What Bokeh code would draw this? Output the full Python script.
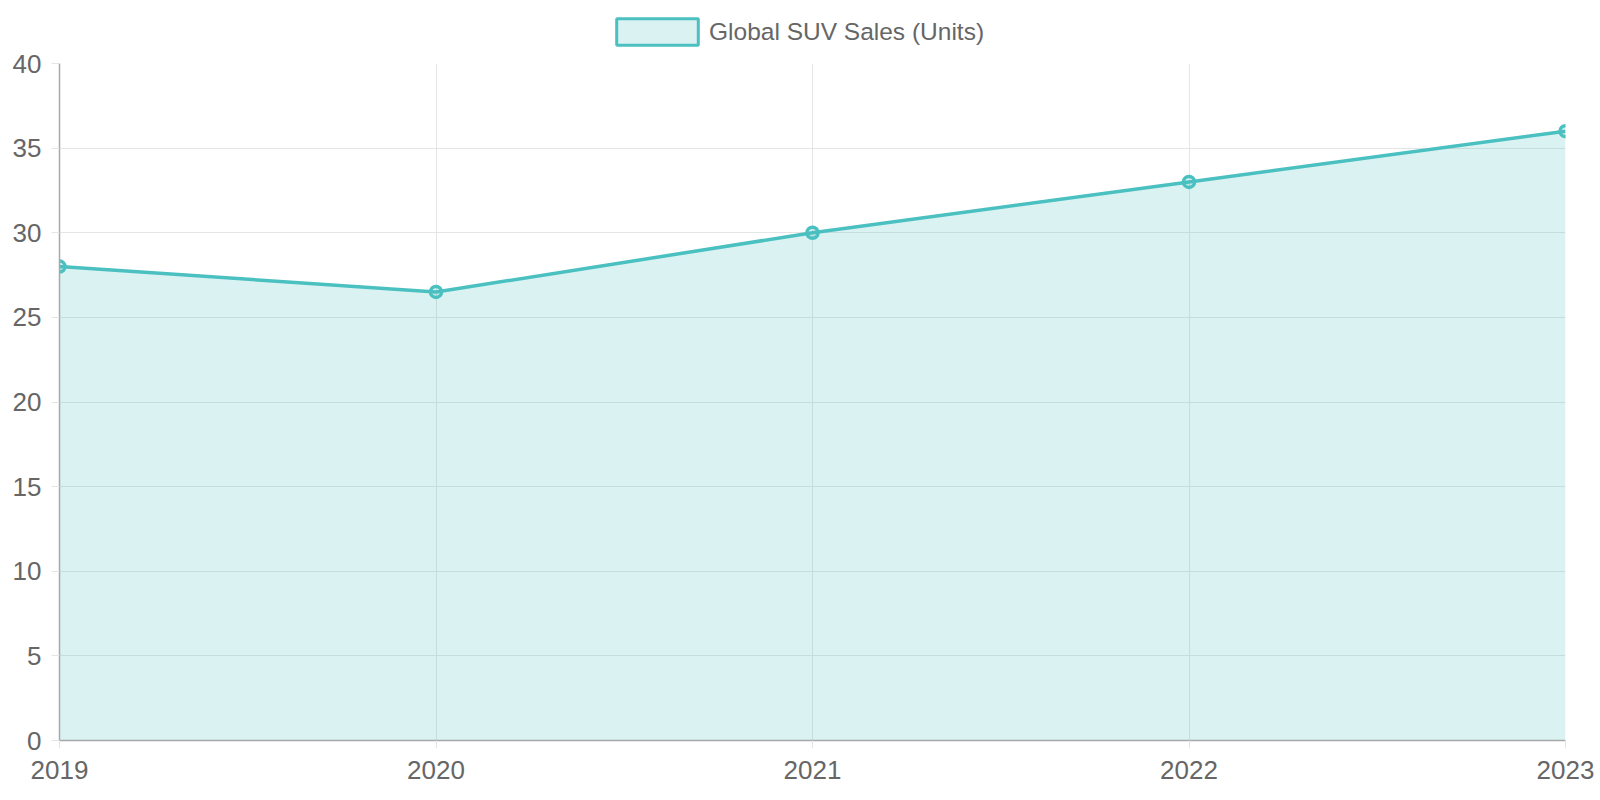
import numpy as np

from bokeh.plotting import figure
from bokeh.layouts import column
from bokeh.models import ColumnDataSource, Range1d, Legend, LegendItem, FixedTicker
from bokeh.embed import file_html
from bokeh.resources import INLINE

# data
years = [2019, 2020, 2021, 2022, 2023]
sales = [28, 26.5, 30, 33, 36]
y_ticks = [0, 5, 10, 15, 20, 25, 30, 35, 40]

TEAL = "#4bc0c0"
FONT = "Liberation Sans"
TXT = "#666666"
GRID = "#e5e5e5"
W = 1596

src = ColumnDataSource(data={"x": years, "y": sales, "zero": [0] * len(years)})

# strip on top that only holds the legend (its frame is aligned with the main frame)
top = figure(width=W, height=48, output_backend="svg", toolbar_location=None,
             x_axis_type=None, y_axis_type=None, min_border=0)
top.outline_line_color = None
top.grid.visible = False
swatch = top.quad(left=[np.nan], right=[np.nan], top=[np.nan], bottom=[np.nan],
                  fill_color=TEAL, fill_alpha=0.2, line_color=TEAL, line_width=3)
legend = Legend(items=[LegendItem(label="Global SUV Sales (Units)", renderers=[swatch])],
                orientation="horizontal", location=(547, 0),
                glyph_width=102, glyph_height=33, label_height=33,
                label_text_font=FONT, label_text_font_size="24.5px",
                label_text_color=TXT, label_standoff=1, padding=0, margin=0,
                spacing=0, border_line_color=None, background_fill_alpha=0)
top.add_layout(legend, "center")

p = figure(width=W, height=742, output_backend="svg", toolbar_location=None,
           x_range=Range1d(2019, 2023), y_range=Range1d(0, 40),
           min_border_left=59, min_border_right=31, min_border_top=15, min_border_bottom=50)
p.outline_line_color = None

p.varea(x="x", y1="zero", y2="y", source=src, fill_color=TEAL, fill_alpha=0.2)
p.line(x="x", y="y", source=src, line_color=TEAL, line_width=3.5)
p.scatter(x="x", y="y", source=src, size=11, line_color=TEAL, line_width=3.5,
          fill_color=TEAL, fill_alpha=0.2)

# axes
p.xaxis.ticker = FixedTicker(ticks=years)
p.yaxis.ticker = FixedTicker(ticks=y_ticks)
for ax in (p.xaxis[0], p.yaxis[0]):
    ax.axis_line_color = "#a8a8a8"
    ax.axis_line_width = 1.5
    ax.major_tick_line_color = GRID
    ax.major_tick_out = 8
    ax.major_tick_in = 0
    ax.minor_tick_line_color = None
    ax.major_label_text_font = FONT
    ax.major_label_text_font_size = "26px"
    ax.major_label_text_color = TXT
p.yaxis.major_label_standoff = 10
p.xaxis.major_label_standoff = 12

p.xgrid.grid_line_color = GRID
p.ygrid.grid_line_color = GRID
p.xgrid.level = "underlay"
p.ygrid.level = "underlay"

layout = column(top, p, spacing=0)
open("out.html", "w").write(file_html(layout, INLINE))
